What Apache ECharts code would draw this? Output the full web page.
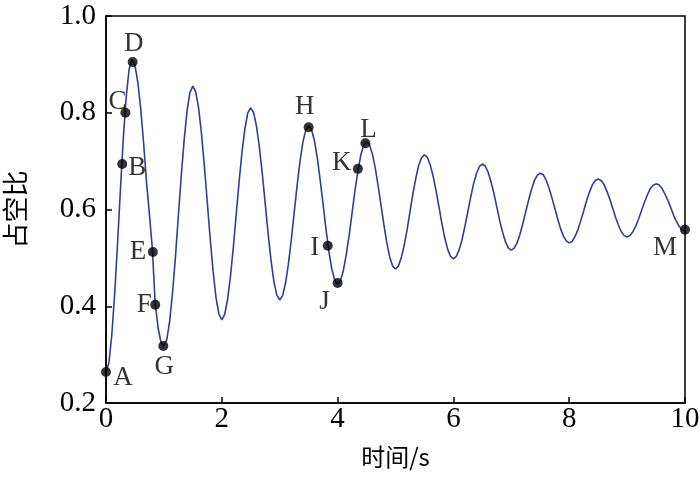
<!DOCTYPE html>
<html>
<head>
<meta charset="utf-8">
<script src="https://cdn.jsdelivr.net/npm/echarts@6/dist/echarts.min.js"></script>
<style>html,body{margin:0;padding:0;background:#fff;}#c{width:700px;height:480px;}</style>
</head>
<body>
<div id="c"></div>
<script>
// ---- data ----
const sampleStep = 0.05; // s between samples
const dutyValues = [
  0.264,0.283,0.340,0.426,0.531,0.643,0.749,0.834,0.891,0.910,0.898,0.863,0.808,0.737,0.656,0.590,0.520,0.405,0.355,0.325,0.318,
  0.331,0.369,0.429,0.503,0.587,0.670,0.744,0.804,0.842,0.855,0.843,0.809,0.756,0.688,0.614,0.539,0.472,0.418,0.384,0.372,
  0.383,0.414,0.462,0.523,0.591,0.659,0.720,0.768,0.800,0.810,0.800,0.772,0.728,0.673,0.612,0.550,0.495,0.451,0.423,0.413,
  0.422,0.447,0.487,0.537,0.593,0.649,0.699,0.739,0.764,0.773,0.765,0.742,0.706,0.660,0.610,0.559,0.513,0.477,0.454,0.446,
  0.453,0.474,0.507,0.547,0.593,0.639,0.679,0.712,0.733,0.740,0.734,0.715,0.686,0.649,0.609,0.568,0.531,0.502,0.483,0.477,
  0.483,0.500,0.526,0.558,0.595,0.632,0.664,0.691,0.707,0.713,0.708,0.692,0.669,0.639,0.606,0.572,0.542,0.518,0.503,0.498,
  0.503,0.517,0.538,0.566,0.596,0.626,0.654,0.675,0.689,0.694,0.690,0.677,0.657,0.633,0.605,0.577,0.553,0.533,0.520,0.516,
  0.520,0.531,0.549,0.571,0.596,0.620,0.642,0.660,0.671,0.675,0.672,0.661,0.645,0.625,0.603,0.581,0.561,0.545,0.535,0.531,
  0.534,0.544,0.558,0.577,0.597,0.618,0.636,0.651,0.660,0.663,0.660,0.652,0.638,0.622,0.603,0.584,0.568,0.554,0.546,0.543,
  0.546,0.554,0.566,0.581,0.598,0.615,0.630,0.643,0.650,0.653,0.651,0.644,0.633,0.620,0.605,0.589,0.576,0.565,0.558,0.556
];
const pointNames = ['A','B','C','D','E','F','G','H','I','J','K','L','M'];
const pointTimes = [0, 0.28, 0.335, 0.46, 0.81, 0.85, 0.99, 3.5, 3.83, 4.0, 4.35, 4.48, 10];
const pointValues = [0.264, 0.694, 0.80, 0.905, 0.512, 0.403, 0.318, 0.77, 0.525, 0.448, 0.684, 0.737, 0.558];
const xTicks = [0, 2, 4, 6, 8, 10];
const yTicks = [0.2, 0.4, 0.6, 0.8, 1.0];
const xName = '时间/s';
const yName = '占空比';

// ---- label placement (style only) ----
const labelOffsets = {
  A:[17,6], B:[15,4], C:[-8,-11], D:[1,-18], E:[-15,0], F:[-11,0], G:[1,21],
  H:[-4,-20], I:[-13,2], J:[-13,19], K:[-16,-6], L:[3,-13], M:[-20,18]
};

const lineData = dutyValues.map((v, i) => [+(i * sampleStep).toFixed(2), v]);
const pointData = pointNames.map((n, i) => ({
  name: n,
  value: [pointTimes[i], pointValues[i]],
  label: { offset: labelOffsets[n] }
}));

const serif = '"Liberation Serif", "Times New Roman", serif';
const cjk = '"Noto Sans CJK SC", sans-serif';

const chart = echarts.init(document.getElementById('c'), null, { renderer: 'canvas' });
chart.setOption({
  animation: false,
  backgroundColor: '#fff',
  grid: { left: 106, right: 15, top: 16, bottom: 77, show: true, borderColor: '#000', borderWidth: 1.5,
          containLabel: false, outerBoundsMode: 'none' },
  xAxis: {
    type: 'value', min: xTicks[0], max: xTicks[xTicks.length - 1], interval: 2,
    name: xName, nameLocation: 'middle', nameGap: 42,
    nameTextStyle: { fontFamily: cjk, fontSize: 24, color: '#000' },
    axisLine: { show: true, lineStyle: { color: '#000', width: 1.5 } },
    axisTick: { show: true, inside: true, length: 6, lineStyle: { color: '#000', width: 1.5 } },
    axisLabel: { fontFamily: serif, fontSize: 29, color: '#000', margin: 2 },
    splitLine: { show: false }
  },
  yAxis: {
    type: 'value', min: yTicks[0], max: yTicks[yTicks.length - 1], interval: 0.2,
    name: yName, nameLocation: 'middle', nameGap: 78, nameRotate: 90,
    nameTextStyle: { fontFamily: cjk, fontSize: 26, color: '#000' },
    axisLine: { show: true, lineStyle: { color: '#000', width: 1.5 } },
    axisTick: { show: true, inside: true, length: 6, lineStyle: { color: '#000', width: 1.5 } },
    axisLabel: { fontFamily: serif, fontSize: 29, color: '#000', margin: 10, formatter: v => v.toFixed(1) },
    splitLine: { show: false }
  },
  series: [
    {
      type: 'line', data: lineData, showSymbol: false, symbol: 'none',
      lineStyle: { color: '#2f3f92', width: 1.6 }, z: 2
    },
    {
      type: 'scatter', data: pointData, symbol: 'circle', symbolSize: 10, clip: false,
      itemStyle: { color: '#000' }, z: 5,
      label: { show: true, position: 'inside', formatter: p => p.name, fontFamily: serif, fontSize: 27, color: '#000' }
    }
  ]
});
</script>
</body>
</html>
